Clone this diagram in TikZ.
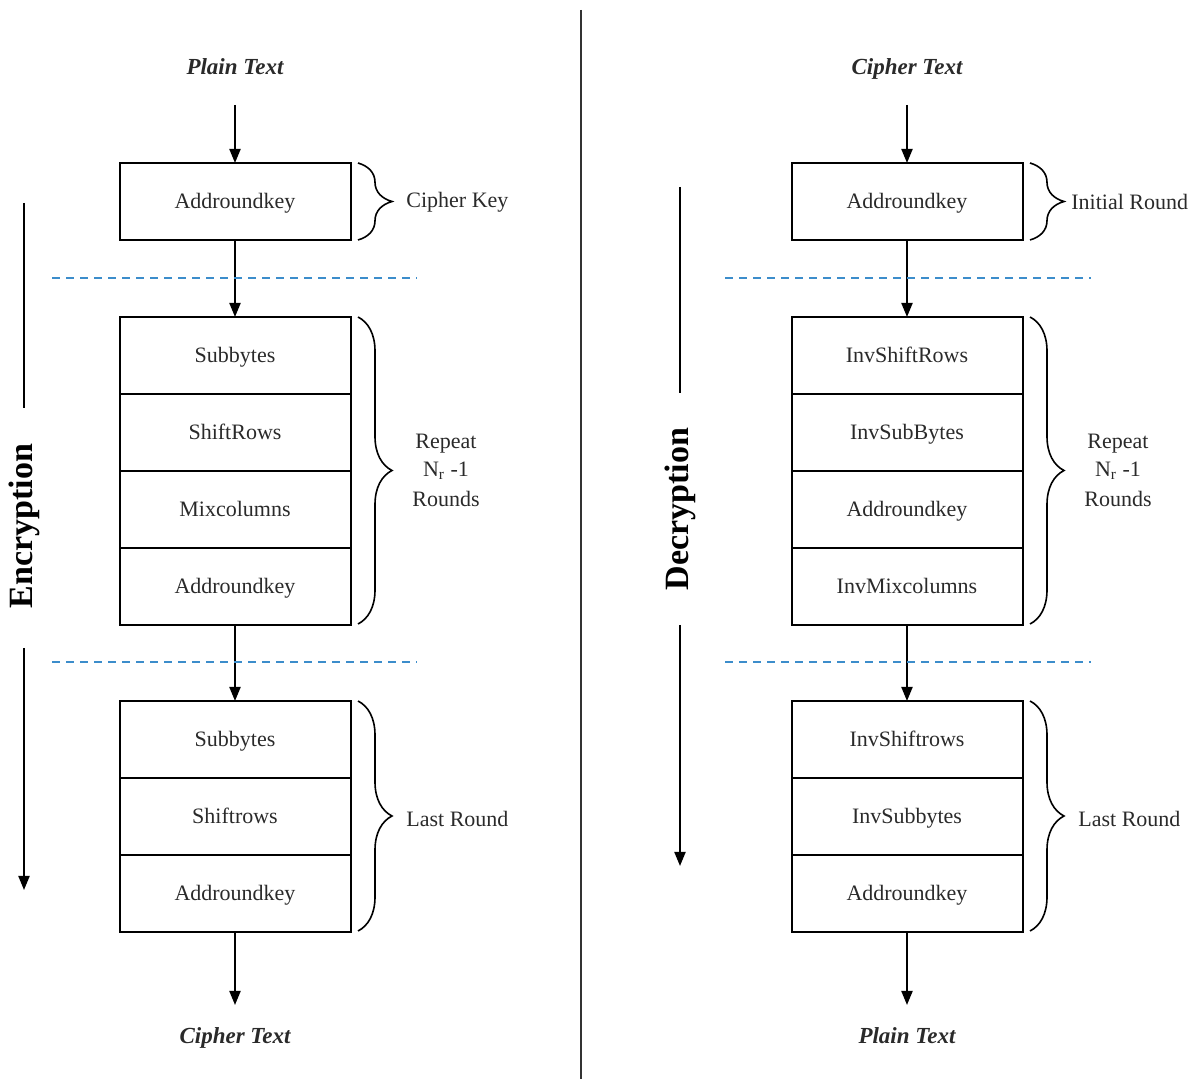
\documentclass[tikz,border=0pt]{standalone}
\usepackage{fontspec}
\setmainfont{Liberation Serif}
\usetikzlibrary{arrows.meta,decorations.pathreplacing,positioning}
\definecolor{dashblue}{HTML}{3C8DCB}
\definecolor{txt}{HTML}{2A2A2A}
\begin{document}
\begin{tikzpicture}[x=0.5pt,y=-0.5pt,
  blk/.style={draw=black,line width=1pt,minimum width=115.5pt,minimum height=38.5pt,inner sep=0pt,outer sep=0pt,text height=8.6pt,text depth=1.4pt,font=\fontsize{11}{13}\selectfont,text=txt},
  lbl/.style={font=\fontsize{11}{13}\selectfont,text=txt,align=center,inner sep=0pt},
  io/.style={font=\fontsize{11.5}{13}\selectfont\bfseries\itshape,text=txt,inner sep=0pt,text height=9.3pt,text depth=0.9pt},
  side/.style={font=\fontsize{17}{19}\selectfont\bfseries,rotate=90,inner sep=0pt},
  arr/.style={line width=1pt,-{Triangle[length=7pt,width=5.5pt]}},
  brc/.style={decorate,decoration={brace,amplitude=17pt,aspect=0.5},line width=0.8pt},
  dsh/.style={dashblue,line width=0.8pt,dash pattern=on 4pt off 3pt}]
\useasboundingbox (0,0) rectangle (1201,1079);
% divider
\draw[line width=0.9pt,black!80] (581,10) -- (581,1079);

% ===== Encryption side =====
\node[io] (ptE) at (235,66) {Plain Text};
\coordinate (ptEa) at (235,105);
\node[blk] (e1) at (235,201.5) {Addroundkey};
\node[blk] (e2) at (235,355.5) {Subbytes};
\node[blk,below=0pt of e2] (e3) {ShiftRows};
\node[blk,below=0pt of e3] (e4) {Mixcolumns};
\node[blk,below=0pt of e4] (e5) {Addroundkey};
\node[blk] (e6) at (235,739.5) {Subbytes};
\node[blk,below=0pt of e6] (e7) {Shiftrows};
\node[blk,below=0pt of e7] (e8) {Addroundkey};
\coordinate (ctEa) at (235,1005);
\node[io] (ctE) at (235,1035) {Cipher Text};
\draw[arr] (ptEa) -- (e1.north);
\draw[arr] (e1.south) -- (e2.north);
\draw[arr] (e5.south) -- (e6.north);
\draw[arr] (e8.south) -- (ctEa);

\coordinate (dE1a) at (52,278); \coordinate (dE1b) at (417,278);
\coordinate (dE2a) at (52,662); \coordinate (dE2b) at (417,662);
\draw[dsh] (dE1a) -- (dE1b);
\draw[dsh] (dE2a) -- (dE2b);

\coordinate (bE1a) at (358,163); \coordinate (bE1b) at (358,240);
\coordinate (bE2a) at (358,317); \coordinate (bE2b) at (358,624);
\coordinate (bE3a) at (358,701); \coordinate (bE3b) at (358,931);
\draw[brc] (bE1a) -- (bE1b);
\draw[brc] (bE2a) -- (bE2b);
\draw[brc] (bE3a) -- (bE3b);
\node[lbl,anchor=west] (kE) at (406,202) {Cipher Key};
\node[lbl] (rE) at (446,470) {Repeat\\[1pt]N\textsubscript{r} -1\\[2pt]Rounds};
\node[lbl,anchor=west] (lE) at (406,819) {Last Round};

\coordinate (sEa) at (24,203); \coordinate (sEb) at (24,408);
\coordinate (sEc) at (24,648); \coordinate (sEd) at (24,890);
\draw[line width=1pt] (sEa) -- (sEb);
\node[side] (encT) at (24,526) {Encryption};
\draw[arr] (sEc) -- (sEd);

% ===== Decryption side =====
\node[io] (ctD) at (907,66) {Cipher Text};
\coordinate (ctDa) at (907,105);
\node[blk] (d1) at (907,201.5) {Addroundkey};
\node[blk] (d2) at (907,355.5) {InvShiftRows};
\node[blk,below=0pt of d2] (d3) {InvSubBytes};
\node[blk,below=0pt of d3] (d4) {Addroundkey};
\node[blk,below=0pt of d4] (d5) {InvMixcolumns};
\node[blk] (d6) at (907,739.5) {InvShiftrows};
\node[blk,below=0pt of d6] (d7) {InvSubbytes};
\node[blk,below=0pt of d7] (d8) {Addroundkey};
\coordinate (ptDa) at (907,1005);
\node[io] (ptD) at (907,1035) {Plain Text};
\draw[arr] (ctDa) -- (d1.north);
\draw[arr] (d1.south) -- (d2.north);
\draw[arr] (d5.south) -- (d6.north);
\draw[arr] (d8.south) -- (ptDa);

\coordinate (dD1a) at (725,278); \coordinate (dD1b) at (1091,278);
\coordinate (dD2a) at (725,662); \coordinate (dD2b) at (1091,662);
\draw[dsh] (dD1a) -- (dD1b);
\draw[dsh] (dD2a) -- (dD2b);

\coordinate (bD1a) at (1030,163); \coordinate (bD1b) at (1030,240);
\coordinate (bD2a) at (1030,317); \coordinate (bD2b) at (1030,624);
\coordinate (bD3a) at (1030,701); \coordinate (bD3b) at (1030,931);
\draw[brc] (bD1a) -- (bD1b);
\draw[brc] (bD2a) -- (bD2b);
\draw[brc] (bD3a) -- (bD3b);
\node[lbl,anchor=west] (kD) at (1071,202) {Initial Round};
\node[lbl] (rD) at (1118,470) {Repeat\\[1pt]N\textsubscript{r} -1\\[2pt]Rounds};
\node[lbl,anchor=west] (lD) at (1078,819) {Last Round};

\coordinate (sDa) at (680,187); \coordinate (sDb) at (680,393);
\coordinate (sDc) at (680,625); \coordinate (sDd) at (680,866);
\draw[line width=1pt] (sDa) -- (sDb);
\node[side] (decT) at (680,509) {Decryption};
\draw[arr] (sDc) -- (sDd);
\end{tikzpicture}
\end{document}
